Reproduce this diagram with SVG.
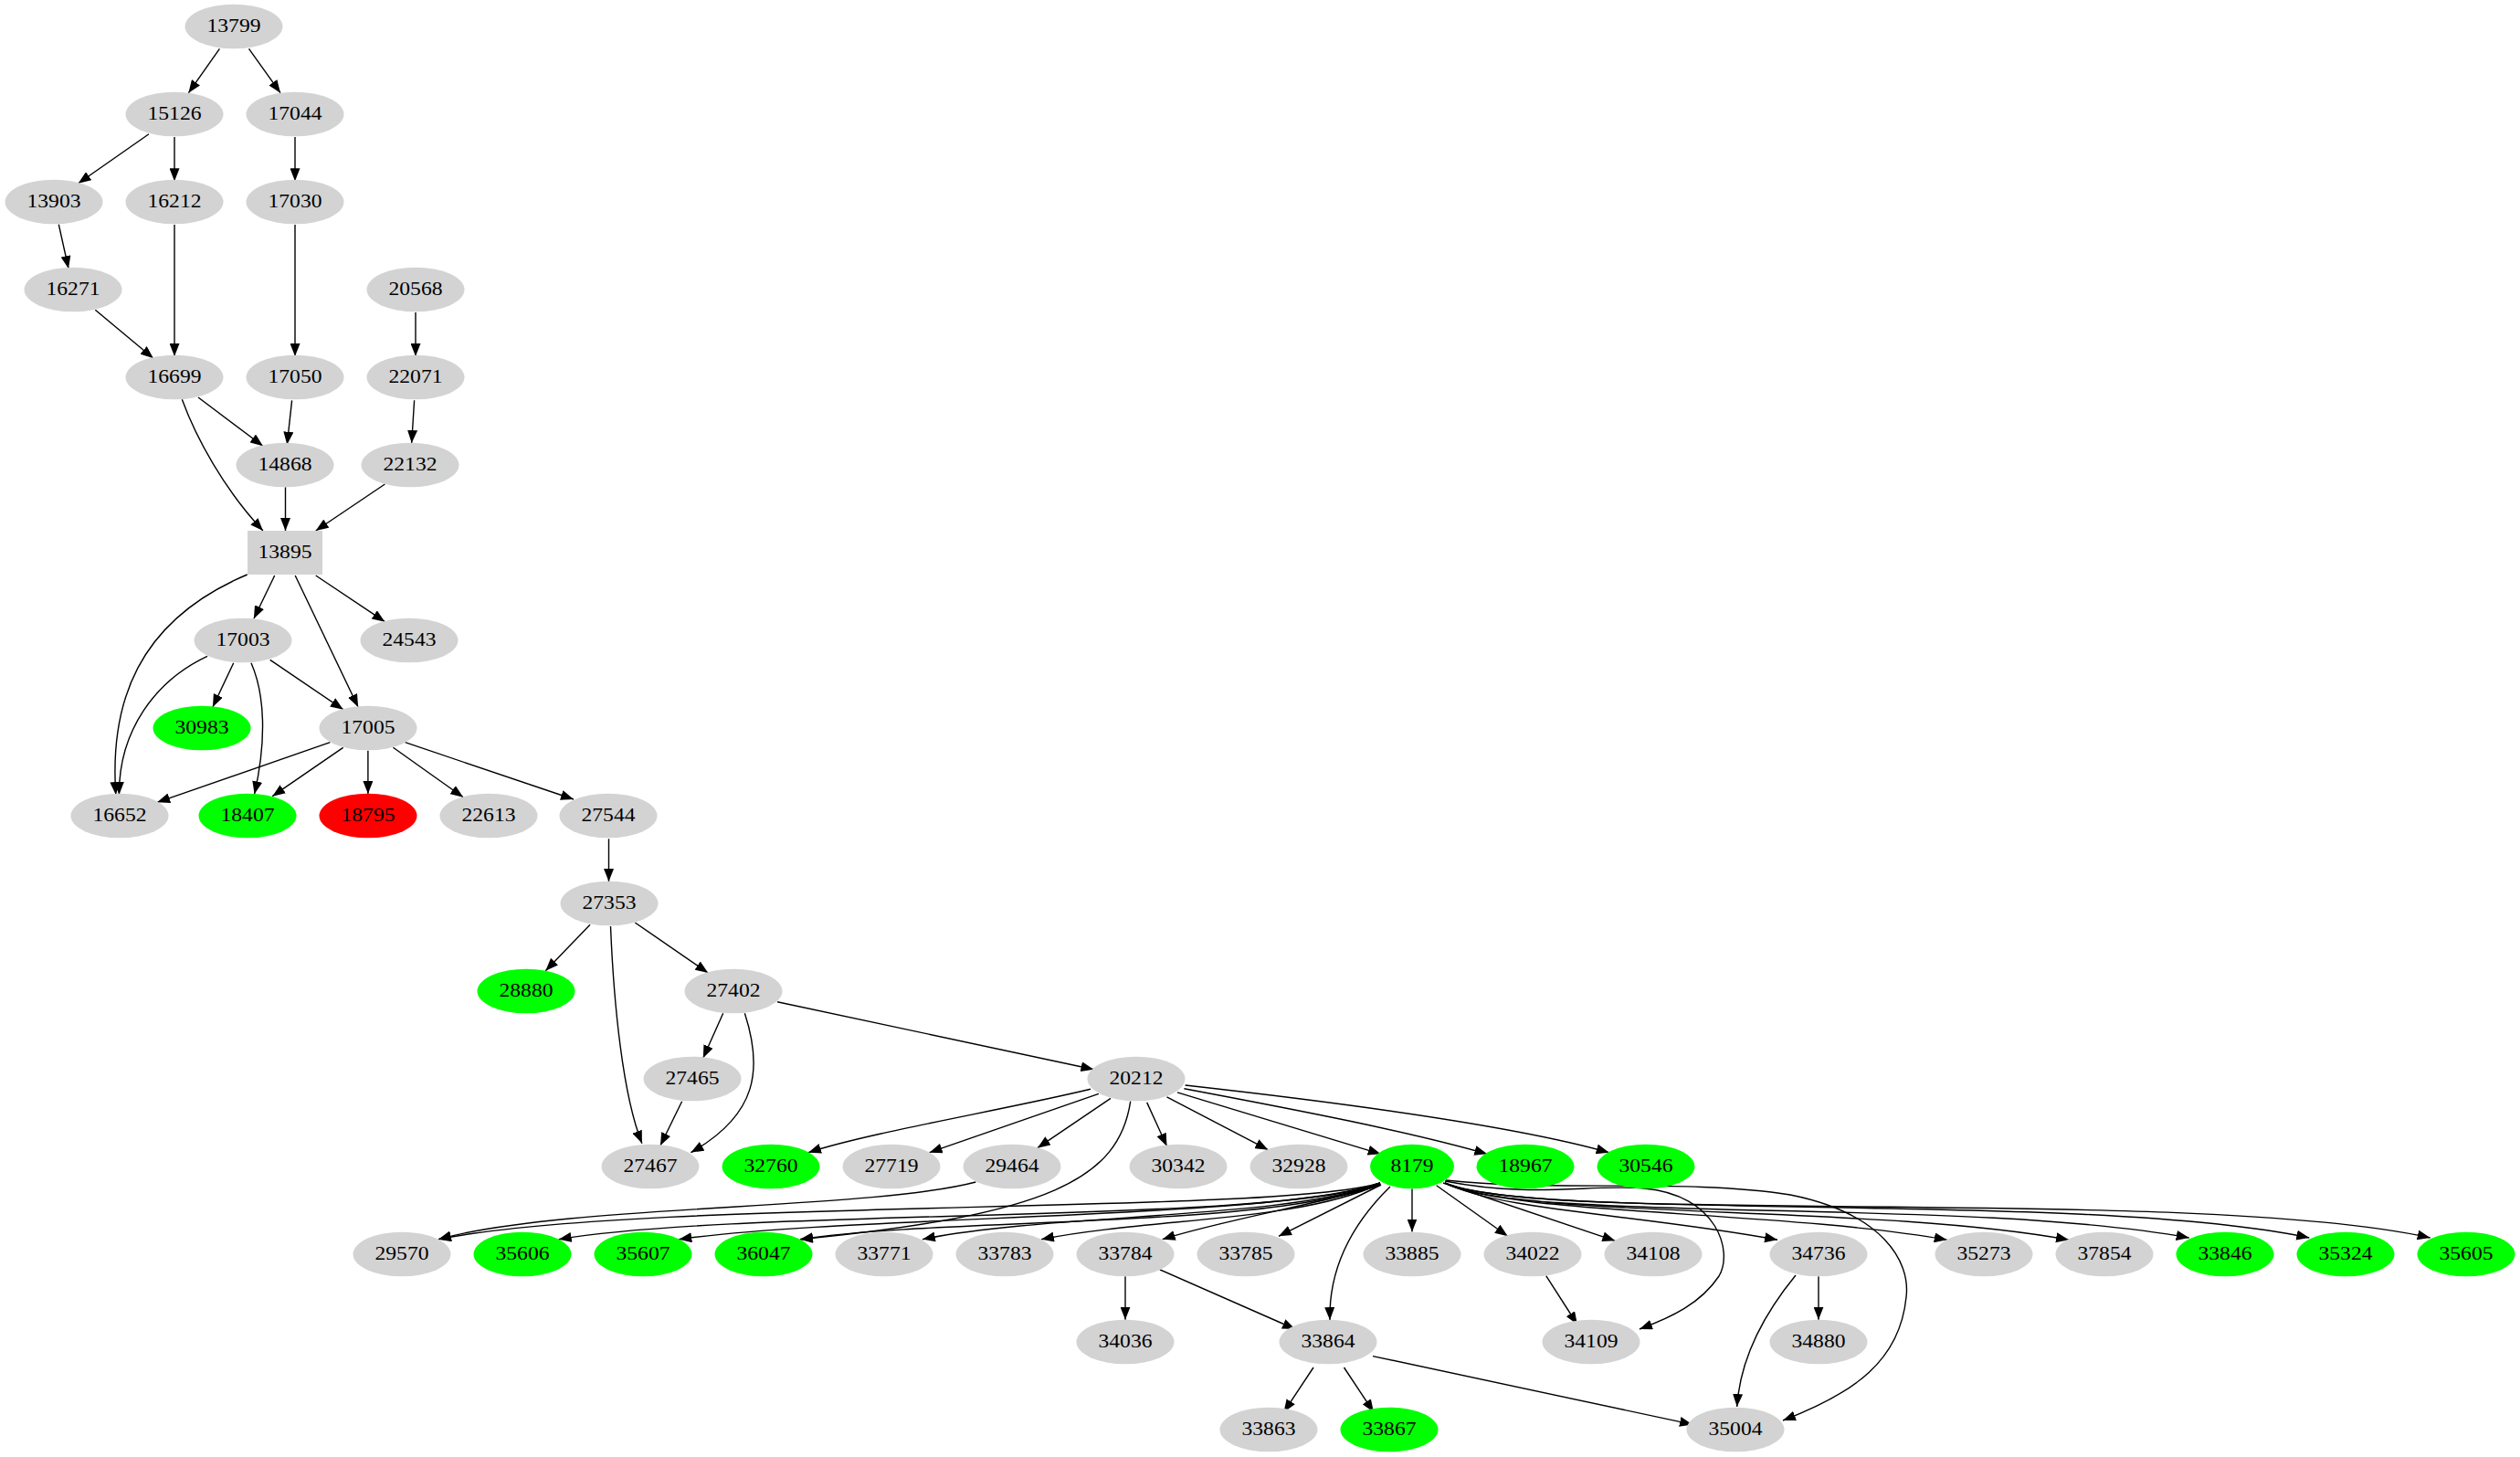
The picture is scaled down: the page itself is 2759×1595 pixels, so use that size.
<svg xmlns="http://www.w3.org/2000/svg" width="2759" height="1595" viewBox="0 0 2759 1595">
<defs>
<marker id="ah" markerWidth="14" markerHeight="11" refX="14" refY="5.5" orient="auto" markerUnits="userSpaceOnUse"><path d="M0,0 L14,5.5 L0,11 z" fill="#000"/></marker>
<style>
.g ellipse,.g rect{fill:#d3d3d3;stroke:none}
.gr ellipse{fill:#00ff00}
.rd ellipse{fill:#ff0000}
text{font-family:"Liberation Serif","Times New Roman",serif;font-size:22px;fill:#000;text-anchor:middle}
#edges path{fill:none;stroke:#000;stroke-width:1.4;marker-end:url(#ah)}
</style>
</defs>
<rect width="2759" height="1595" fill="#fff"/>
<g id="edges">
<path d="M240.4,53.3 L206.4,101.7"/>
<path d="M272.5,53.3 L307,101.7"/>
<path d="M163,146.7 L85.7,200.7"/>
<path d="M191,150 L191,198.3"/>
<path d="M323,150 L323,198.3"/>
<path d="M64.3,245.7 L75,294"/>
<path d="M104.3,339.3 L167.9,392.3"/>
<path d="M191,246 L191,390"/>
<path d="M323,246 L323,390"/>
<path d="M455,342 L455,390"/>
<path d="M217,435 L287.9,488.3"/>
<path d="M199.3,437.3 C215,480 245,535 287.9,581"/>
<path d="M319.6,438.3 L314.3,486.7"/>
<path d="M453.6,438.3 L450.7,485"/>
<path d="M312.5,533.3 L312.5,581"/>
<path d="M421.4,530 L345.7,581"/>
<path d="M270.7,629 C150,680 120,770 126.8,870"/>
<path d="M300.7,630 L277.9,677.3"/>
<path d="M323.2,630 L392.1,774"/>
<path d="M345.7,630 L421.4,680.7"/>
<path d="M227,718.3 C170,745 130,800 130.4,870"/>
<path d="M255.7,725.7 L232.9,774"/>
<path d="M275,725.7 C290,760 292,810 278.6,869.3"/>
<path d="M295.7,722.3 L375.7,776.7"/>
<path d="M361.4,812.7 L172.1,878.3"/>
<path d="M375.7,818.3 L298.2,871.7"/>
<path d="M402.9,821.7 L402.9,869"/>
<path d="M430.4,818.3 L507.1,872.7"/>
<path d="M443.6,812.7 L628,875"/>
<path d="M666.5,918.3 L666.5,965"/>
<path d="M646,1012.3 L597.3,1062.7"/>
<path d="M668.5,1014 C672,1100 682,1200 702.9,1251.7"/>
<path d="M695.3,1010 L775.2,1065"/>
<path d="M791.7,1109.3 L769.8,1158.3"/>
<path d="M815.4,1109.3 C835,1170 830,1220 756.4,1261.7"/>
<path d="M746.6,1205.7 L723,1254"/>
<path d="M851,1096.7 L1197.5,1170.7"/>
<path d="M1194,1192.3 C1100,1215 950,1240 885,1261.7"/>
<path d="M1202.9,1197.3 L1017.6,1261.7"/>
<path d="M1216,1202.3 L1135.9,1256.7"/>
<path d="M1237.7,1205.7 C1225,1290 1150,1330 876,1356.7"/>
<path d="M1255.7,1206.9 L1277.5,1254.7"/>
<path d="M1277.5,1200.8 L1388.3,1258.7"/>
<path d="M1289,1195.8 L1511.7,1263.3"/>
<path d="M1296.4,1191.7 C1420,1215 1540,1238 1628.3,1263.3"/>
<path d="M1297.6,1188 C1450,1205 1650,1230 1761.7,1261.7"/>
<path d="M1068.3,1294 C950,1325 620,1318 480,1356.7"/>
<path d="M1511,1295 C1400,1330 700,1312 480,1356.7"/>
<path d="M1511,1295 C1400,1340 820,1322 611.7,1356.7"/>
<path d="M1511,1295 C1400,1335 930,1330 743.3,1356.7"/>
<path d="M1511,1295 C1400,1345 1040,1332 876,1356.7"/>
<path d="M1511,1295 C1410,1335 1150,1328 1010,1356.7"/>
<path d="M1511,1296 C1420,1338 1260,1333 1140,1356.7"/>
<path d="M1512,1297 C1460,1315 1340,1335 1272.7,1356.7"/>
<path d="M1512,1297 L1400,1353.3"/>
<path d="M1522,1299 C1470,1350 1455,1400 1456,1445"/>
<path d="M1546,1301.5 L1546,1348.5"/>
<path d="M1572.7,1297.7 L1650.7,1353.3"/>
<path d="M1580,1295 L1768.3,1358.3"/>
<path d="M1582,1293 C1680,1312 1740,1296 1800,1301 C1880,1308 1898,1370 1882,1397 C1862,1427 1830,1442 1795,1455"/>
<path d="M1582,1295 C1640,1325 1800,1330 1946,1357.3"/>
<path d="M1583,1292 C1700,1305 1850,1290 1960,1308 C2060,1328 2092,1380 2087,1420 C2080,1490 2030,1525 1952,1555"/>
<path d="M1582,1295 C1650,1330 1950,1325 2131.7,1357.3"/>
<path d="M1582,1295 C1660,1335 2050,1318 2265,1357.3"/>
<path d="M1582,1295 C1670,1340 2150,1310 2396.7,1355"/>
<path d="M1582,1295 C1680,1338 2280,1303 2528.3,1355"/>
<path d="M1582,1295 C1690,1342 2400,1298 2660.7,1355"/>
<path d="M1232,1397.3 L1232,1444.7"/>
<path d="M1270,1390 L1418,1455"/>
<path d="M1692.7,1396.7 L1727,1450"/>
<path d="M1991,1397.3 L1991,1444.7"/>
<path d="M1966,1396 C1930,1440 1905,1490 1901.7,1540"/>
<path d="M1438,1497 L1405.5,1546"/>
<path d="M1471.5,1497 L1504,1546"/>
<path d="M1503,1484.6 L1853,1559.4"/>
</g>
<g id="n13799" class="g"><ellipse cx="256" cy="29" rx="53.5" ry="24.3"/><text x="256" y="35" textLength="59" lengthAdjust="spacingAndGlyphs">13799</text></g>
<g id="n15126" class="g"><ellipse cx="191" cy="125" rx="53.5" ry="24.3"/><text x="191" y="131" textLength="59" lengthAdjust="spacingAndGlyphs">15126</text></g>
<g id="n17044" class="g"><ellipse cx="323" cy="125" rx="53.5" ry="24.3"/><text x="323" y="131" textLength="59" lengthAdjust="spacingAndGlyphs">17044</text></g>
<g id="n13903" class="g"><ellipse cx="59" cy="221" rx="53.5" ry="24.3"/><text x="59" y="227" textLength="59" lengthAdjust="spacingAndGlyphs">13903</text></g>
<g id="n16212" class="g"><ellipse cx="191" cy="221" rx="53.5" ry="24.3"/><text x="191" y="227" textLength="59" lengthAdjust="spacingAndGlyphs">16212</text></g>
<g id="n17030" class="g"><ellipse cx="323" cy="221" rx="53.5" ry="24.3"/><text x="323" y="227" textLength="59" lengthAdjust="spacingAndGlyphs">17030</text></g>
<g id="n16271" class="g"><ellipse cx="80" cy="317" rx="53.5" ry="24.3"/><text x="80" y="323" textLength="59" lengthAdjust="spacingAndGlyphs">16271</text></g>
<g id="n20568" class="g"><ellipse cx="455" cy="317" rx="53.5" ry="24.3"/><text x="455" y="323" textLength="59" lengthAdjust="spacingAndGlyphs">20568</text></g>
<g id="n16699" class="g"><ellipse cx="191" cy="413" rx="53.5" ry="24.3"/><text x="191" y="419" textLength="59" lengthAdjust="spacingAndGlyphs">16699</text></g>
<g id="n17050" class="g"><ellipse cx="323" cy="413" rx="53.5" ry="24.3"/><text x="323" y="419" textLength="59" lengthAdjust="spacingAndGlyphs">17050</text></g>
<g id="n22071" class="g"><ellipse cx="455" cy="413" rx="53.5" ry="24.3"/><text x="455" y="419" textLength="59" lengthAdjust="spacingAndGlyphs">22071</text></g>
<g id="n14868" class="g"><ellipse cx="312" cy="509" rx="53.5" ry="24.3"/><text x="312" y="515" textLength="59" lengthAdjust="spacingAndGlyphs">14868</text></g>
<g id="n22132" class="g"><ellipse cx="449" cy="509" rx="53.5" ry="24.3"/><text x="449" y="515" textLength="59" lengthAdjust="spacingAndGlyphs">22132</text></g>
<g id="n13895" class="g"><rect x="271" y="581" width="82" height="48"/><text x="312" y="611" textLength="59" lengthAdjust="spacingAndGlyphs">13895</text></g>
<g id="n17003" class="g"><ellipse cx="266" cy="701" rx="53.5" ry="24.3"/><text x="266" y="707" textLength="59" lengthAdjust="spacingAndGlyphs">17003</text></g>
<g id="n24543" class="g"><ellipse cx="448" cy="701" rx="53.5" ry="24.3"/><text x="448" y="707" textLength="59" lengthAdjust="spacingAndGlyphs">24543</text></g>
<g id="n30983" class="g gr"><ellipse cx="221" cy="797" rx="53.5" ry="24.3"/><text x="221" y="803" textLength="59" lengthAdjust="spacingAndGlyphs">30983</text></g>
<g id="n17005" class="g"><ellipse cx="403" cy="797" rx="53.5" ry="24.3"/><text x="403" y="803" textLength="59" lengthAdjust="spacingAndGlyphs">17005</text></g>
<g id="n16652" class="g"><ellipse cx="131" cy="893" rx="53.5" ry="24.3"/><text x="131" y="899" textLength="59" lengthAdjust="spacingAndGlyphs">16652</text></g>
<g id="n18407" class="g gr"><ellipse cx="271" cy="893" rx="53.5" ry="24.3"/><text x="271" y="899" textLength="59" lengthAdjust="spacingAndGlyphs">18407</text></g>
<g id="n18795" class="g rd"><ellipse cx="403" cy="893" rx="53.5" ry="24.3"/><text x="403" y="899" textLength="59" lengthAdjust="spacingAndGlyphs">18795</text></g>
<g id="n22613" class="g"><ellipse cx="535" cy="893" rx="53.5" ry="24.3"/><text x="535" y="899" textLength="59" lengthAdjust="spacingAndGlyphs">22613</text></g>
<g id="n27544" class="g"><ellipse cx="666" cy="893" rx="53.5" ry="24.3"/><text x="666" y="899" textLength="59" lengthAdjust="spacingAndGlyphs">27544</text></g>
<g id="n27353" class="g"><ellipse cx="667" cy="989" rx="53.5" ry="24.3"/><text x="667" y="995" textLength="59" lengthAdjust="spacingAndGlyphs">27353</text></g>
<g id="n28880" class="g gr"><ellipse cx="576" cy="1085" rx="53.5" ry="24.3"/><text x="576" y="1091" textLength="59" lengthAdjust="spacingAndGlyphs">28880</text></g>
<g id="n27402" class="g"><ellipse cx="803" cy="1085" rx="53.5" ry="24.3"/><text x="803" y="1091" textLength="59" lengthAdjust="spacingAndGlyphs">27402</text></g>
<g id="n27465" class="g"><ellipse cx="758" cy="1181" rx="53.5" ry="24.3"/><text x="758" y="1187" textLength="59" lengthAdjust="spacingAndGlyphs">27465</text></g>
<g id="n20212" class="g"><ellipse cx="1244" cy="1181" rx="53.5" ry="24.3"/><text x="1244" y="1187" textLength="59" lengthAdjust="spacingAndGlyphs">20212</text></g>
<g id="n27467" class="g"><ellipse cx="712" cy="1277" rx="53.5" ry="24.3"/><text x="712" y="1283" textLength="59" lengthAdjust="spacingAndGlyphs">27467</text></g>
<g id="n32760" class="g gr"><ellipse cx="844" cy="1277" rx="53.5" ry="24.3"/><text x="844" y="1283" textLength="59" lengthAdjust="spacingAndGlyphs">32760</text></g>
<g id="n27719" class="g"><ellipse cx="976" cy="1277" rx="53.5" ry="24.3"/><text x="976" y="1283" textLength="59" lengthAdjust="spacingAndGlyphs">27719</text></g>
<g id="n29464" class="g"><ellipse cx="1108" cy="1277" rx="53.5" ry="24.3"/><text x="1108" y="1283" textLength="59" lengthAdjust="spacingAndGlyphs">29464</text></g>
<g id="n30342" class="g"><ellipse cx="1290" cy="1277" rx="53.5" ry="24.3"/><text x="1290" y="1283" textLength="59" lengthAdjust="spacingAndGlyphs">30342</text></g>
<g id="n32928" class="g"><ellipse cx="1422" cy="1277" rx="53.5" ry="24.3"/><text x="1422" y="1283" textLength="59" lengthAdjust="spacingAndGlyphs">32928</text></g>
<g id="n8179" class="g gr"><ellipse cx="1546" cy="1277" rx="46" ry="24.3"/><text x="1546" y="1283" textLength="47" lengthAdjust="spacingAndGlyphs">8179</text></g>
<g id="n18967" class="g gr"><ellipse cx="1670" cy="1277" rx="53.5" ry="24.3"/><text x="1670" y="1283" textLength="59" lengthAdjust="spacingAndGlyphs">18967</text></g>
<g id="n30546" class="g gr"><ellipse cx="1802" cy="1277" rx="53.5" ry="24.3"/><text x="1802" y="1283" textLength="59" lengthAdjust="spacingAndGlyphs">30546</text></g>
<g id="n29570" class="g"><ellipse cx="440" cy="1373" rx="53.5" ry="24.3"/><text x="440" y="1379" textLength="59" lengthAdjust="spacingAndGlyphs">29570</text></g>
<g id="n35606" class="g gr"><ellipse cx="572" cy="1373" rx="53.5" ry="24.3"/><text x="572" y="1379" textLength="59" lengthAdjust="spacingAndGlyphs">35606</text></g>
<g id="n35607" class="g gr"><ellipse cx="704" cy="1373" rx="53.5" ry="24.3"/><text x="704" y="1379" textLength="59" lengthAdjust="spacingAndGlyphs">35607</text></g>
<g id="n36047" class="g gr"><ellipse cx="836" cy="1373" rx="53.5" ry="24.3"/><text x="836" y="1379" textLength="59" lengthAdjust="spacingAndGlyphs">36047</text></g>
<g id="n33771" class="g"><ellipse cx="968" cy="1373" rx="53.5" ry="24.3"/><text x="968" y="1379" textLength="59" lengthAdjust="spacingAndGlyphs">33771</text></g>
<g id="n33783" class="g"><ellipse cx="1100" cy="1373" rx="53.5" ry="24.3"/><text x="1100" y="1379" textLength="59" lengthAdjust="spacingAndGlyphs">33783</text></g>
<g id="n33784" class="g"><ellipse cx="1232" cy="1373" rx="53.5" ry="24.3"/><text x="1232" y="1379" textLength="59" lengthAdjust="spacingAndGlyphs">33784</text></g>
<g id="n33785" class="g"><ellipse cx="1364" cy="1373" rx="53.5" ry="24.3"/><text x="1364" y="1379" textLength="59" lengthAdjust="spacingAndGlyphs">33785</text></g>
<g id="n33885" class="g"><ellipse cx="1546" cy="1373" rx="53.5" ry="24.3"/><text x="1546" y="1379" textLength="59" lengthAdjust="spacingAndGlyphs">33885</text></g>
<g id="n34022" class="g"><ellipse cx="1678" cy="1373" rx="53.5" ry="24.3"/><text x="1678" y="1379" textLength="59" lengthAdjust="spacingAndGlyphs">34022</text></g>
<g id="n34108" class="g"><ellipse cx="1810" cy="1373" rx="53.5" ry="24.3"/><text x="1810" y="1379" textLength="59" lengthAdjust="spacingAndGlyphs">34108</text></g>
<g id="n34736" class="g"><ellipse cx="1991" cy="1373" rx="53.5" ry="24.3"/><text x="1991" y="1379" textLength="59" lengthAdjust="spacingAndGlyphs">34736</text></g>
<g id="n35273" class="g"><ellipse cx="2172" cy="1373" rx="53.5" ry="24.3"/><text x="2172" y="1379" textLength="59" lengthAdjust="spacingAndGlyphs">35273</text></g>
<g id="n37854" class="g"><ellipse cx="2304" cy="1373" rx="53.5" ry="24.3"/><text x="2304" y="1379" textLength="59" lengthAdjust="spacingAndGlyphs">37854</text></g>
<g id="n33846" class="g gr"><ellipse cx="2436" cy="1373" rx="53.5" ry="24.3"/><text x="2436" y="1379" textLength="59" lengthAdjust="spacingAndGlyphs">33846</text></g>
<g id="n35324" class="g gr"><ellipse cx="2568" cy="1373" rx="53.5" ry="24.3"/><text x="2568" y="1379" textLength="59" lengthAdjust="spacingAndGlyphs">35324</text></g>
<g id="n35605" class="g gr"><ellipse cx="2700" cy="1373" rx="53.5" ry="24.3"/><text x="2700" y="1379" textLength="59" lengthAdjust="spacingAndGlyphs">35605</text></g>
<g id="n34036" class="g"><ellipse cx="1232" cy="1469" rx="53.5" ry="24.3"/><text x="1232" y="1475" textLength="59" lengthAdjust="spacingAndGlyphs">34036</text></g>
<g id="n33864" class="g"><ellipse cx="1454" cy="1469" rx="53.5" ry="24.3"/><text x="1454" y="1475" textLength="59" lengthAdjust="spacingAndGlyphs">33864</text></g>
<g id="n34109" class="g"><ellipse cx="1742" cy="1469" rx="53.5" ry="24.3"/><text x="1742" y="1475" textLength="59" lengthAdjust="spacingAndGlyphs">34109</text></g>
<g id="n34880" class="g"><ellipse cx="1991" cy="1469" rx="53.5" ry="24.3"/><text x="1991" y="1475" textLength="59" lengthAdjust="spacingAndGlyphs">34880</text></g>
<g id="n33863" class="g"><ellipse cx="1389" cy="1565" rx="53.5" ry="24.3"/><text x="1389" y="1571" textLength="59" lengthAdjust="spacingAndGlyphs">33863</text></g>
<g id="n33867" class="g gr"><ellipse cx="1521" cy="1565" rx="53.5" ry="24.3"/><text x="1521" y="1571" textLength="59" lengthAdjust="spacingAndGlyphs">33867</text></g>
<g id="n35004" class="g"><ellipse cx="1900" cy="1565" rx="53.5" ry="24.3"/><text x="1900" y="1571" textLength="59" lengthAdjust="spacingAndGlyphs">35004</text></g>
</svg>
